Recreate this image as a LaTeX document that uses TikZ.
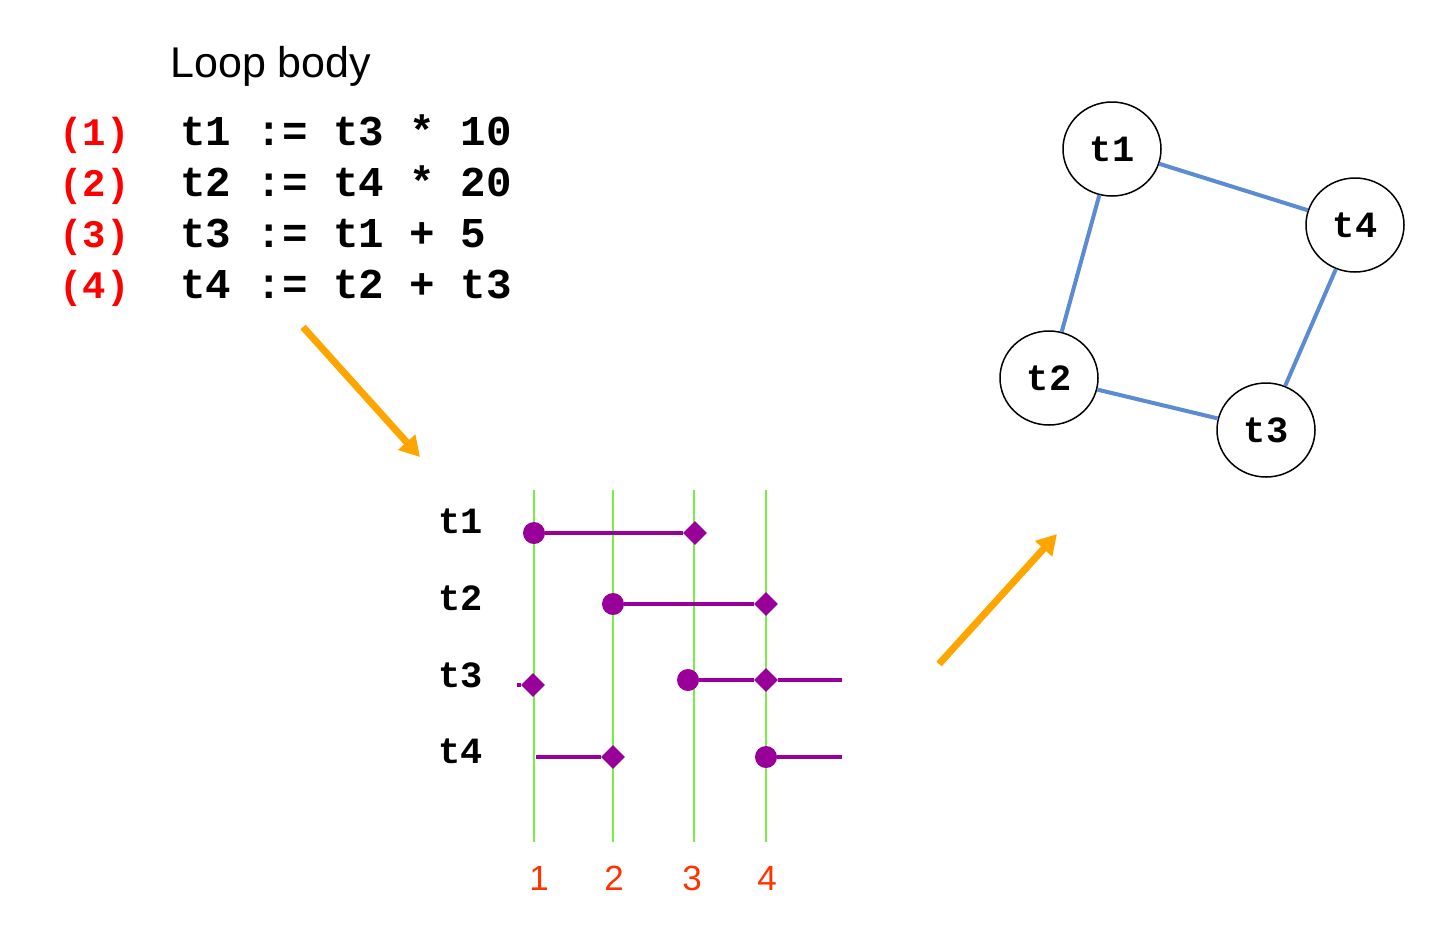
\documentclass[tikz,border=0pt]{standalone}
\usepackage{fontspec}
\setmainfont{Liberation Sans}
\setmonofont{Liberation Mono}
\usetikzlibrary{shapes.geometric,arrows.meta}

\definecolor{lineno}{HTML}{FF0000}
\definecolor{live}{HTML}{990099}
\definecolor{gridc}{HTML}{77EE44}
\definecolor{flow}{HTML}{FFA500}
\definecolor{tick}{HTML}{FF3300}
\definecolor{edgec}{HTML}{5B8BD0}

\begin{document}
\begin{tikzpicture}[x=0.5pt, y=-0.5pt,
    code/.style = {anchor=base west, inner sep=0pt, font=\ttfamily\bfseries\fontsize{21.25}{25}\selectfont},
    num/.style = {anchor=base west, inner sep=0pt, text=lineno, font=\ttfamily\bfseries\fontsize{19.5}{24}\selectfont},
    var/.style = {anchor=base west, inner sep=0pt, font=\ttfamily\bfseries\fontsize{18.5}{22}\selectfont},
    tickno/.style = {anchor=base, inner sep=0pt, text=tick, font=\fontsize{17.5}{21}\selectfont},
    gridline/.style = {draw=gridc, line width=0.75pt},
    defpt/.style = {circle, fill=live, minimum size=11pt, inner sep=0pt},
    usept/.style = {diamond, fill=live, minimum size=12pt, inner sep=0pt},
    life/.style = {draw=live, line width=2.2pt},
    flowarrow/.style = {draw=flow, line width=3.5pt, -{Triangle[length=10pt,width=11pt]}},
    reg/.style = {ellipse, draw, line width=0.75pt, minimum width=49pt, minimum height=47pt, inner sep=0pt, font=\ttfamily\bfseries\fontsize{18.5}{22}\selectfont},
    conflict/.style = {draw=edgec, line width=2pt}]
    \useasboundingbox (0,0) rectangle (1446,928);

    % loop body
    \node[anchor=base west, inner sep=0pt, font=\fontsize{21.5}{26}\selectfont] (title) at (170,77) {Loop body};
    \node[num] (n1) at (59,145) {(1)};
    \node[num] (n2) at (59,196) {(2)};
    \node[num] (n3) at (59,247) {(3)};
    \node[num] (n4) at (59,298) {(4)};
    \node[code] (s1) at (180,145) {t1 := t3 * 10};
    \node[code] (s2) at (180,196) {t2 := t4 * 20};
    \node[code] (s3) at (180,247) {t3 := t1 + 5};
    \node[code] (s4) at (180,298) {t4 := t2 + t3};

    % live ranges
    \node[var] (v1) at (438,533) {t1};
    \node[var] (v2) at (438,610) {t2};
    \node[var] (v3) at (438,687) {t3};
    \node[var] (v4) at (438,763) {t4};

    \coordinate (g1top) at (534,490); \coordinate (g1bot) at (534,842);
    \coordinate (g2top) at (613,490); \coordinate (g2bot) at (613,842);
    \coordinate (g3top) at (694,490); \coordinate (g3bot) at (694,842);
    \coordinate (g4top) at (766,490); \coordinate (g4bot) at (766,842);
    \draw[gridline] (g1top) -- (g1bot);
    \draw[gridline] (g2top) -- (g2bot);
    \draw[gridline] (g3top) -- (g3bot);
    \draw[gridline] (g4top) -- (g4bot);

    \node[defpt] (d1) at (534,533) {};
    \node[usept] (u1) at (695,533) {};
    \node[defpt] (d2) at (613,604) {};
    \node[usept] (u2) at (766,604) {};
    \coordinate (t3in) at (517,685);
    \node[usept] (u3a) at (533,685) {};
    \node[defpt] (d3) at (688,680) {};
    \node[usept] (u3b) at (766,680) {};
    \coordinate (t3out) at (842,680);
    \coordinate (t4in) at (536,757);
    \node[usept] (u4) at (613,757) {};
    \node[defpt] (d4) at (766,757) {};
    \coordinate (t4out) at (842,757);

    \draw[life] (d1) -- (u1);
    \draw[life] (d2) -- (u2);
    \draw[life] (t3in) -- (u3a);
    \draw[life] (d3) -- (u3b) -- (t3out);
    \draw[life] (t4in) -- (u4);
    \draw[life] (d4) -- (t4out);

    \node[tickno] (k1) at (539,890) {1};
    \node[tickno] (k2) at (614,890) {2};
    \node[tickno] (k3) at (692,890) {3};
    \node[tickno] (k4) at (767,890) {4};

    % arrows
    \coordinate (a1from) at (303,327); \coordinate (a1to) at (420,457);
    \coordinate (a2from) at (939,664); \coordinate (a2to) at (1057,534);
    \draw[flowarrow] (a1from) -- (a1to);
    \draw[flowarrow] (a2from) -- (a2to);

    % interference graph
    \node[reg] (r1) at (1112,149) {t1};
    \node[reg] (r4) at (1355,225) {t4};
    \node[reg] (r2) at (1049,378) {t2};
    \node[reg] (r3) at (1266,430) {t3};
    \draw[conflict] (r1) -- (r4);
    \draw[conflict] (r1) -- (r2);
    \draw[conflict] (r4) -- (r3);
    \draw[conflict] (r2) -- (r3);
\end{tikzpicture}
\end{document}
